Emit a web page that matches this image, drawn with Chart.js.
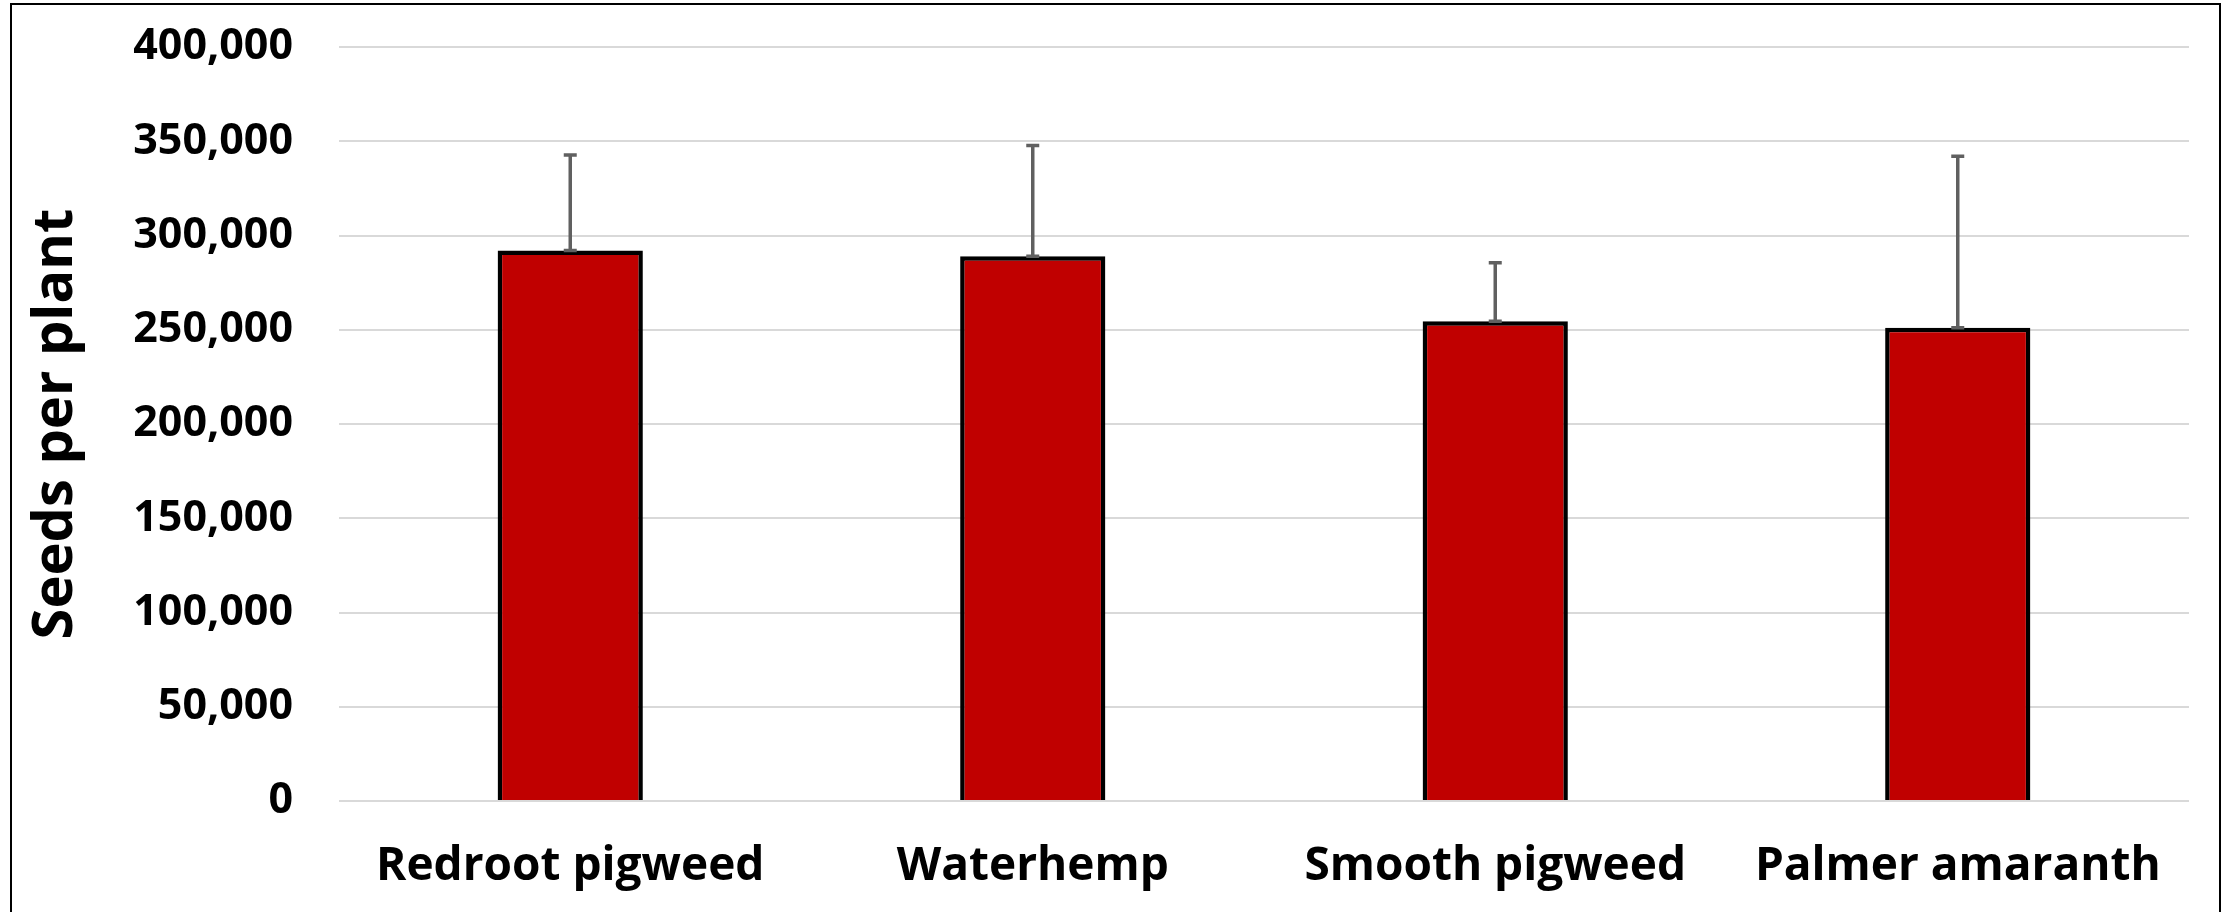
<!DOCTYPE html>
<html><head><meta charset="utf-8">
<script src="https://cdn.jsdelivr.net/npm/chart.js@4/dist/chart.umd.min.js"></script>
<style>
html,body{margin:0;padding:0;background:#fff;overflow:hidden}
#wrap{position:relative;width:2231px;height:912px}
#frame{position:absolute;left:10px;top:3px;width:2211px;height:930px;border:2px solid #000;box-sizing:border-box;pointer-events:none}
canvas{position:absolute;left:0;top:0}
</style></head><body>
<div id="wrap"><canvas id="c" width="2231" height="912"></canvas><div id="frame"></div></div>
<script>
const categories = ['Redroot pigweed', 'Waterhemp', 'Smooth pigweed', 'Palmer amaranth'];
const seedsPerPlant = [292000, 289000, 254500, 251000];
const errorPlus = [50700, 58700, 31000, 91000];
const yTickLabels = ['0', '50,000', '100,000', '150,000', '200,000', '250,000', '300,000', '350,000', '400,000'];
const yAxisTitle = 'Seeds per plant';

const errorBarPlugin = {
  id: 'errorBars',
  afterDatasetsDraw(chart) {
    const meta = chart.getDatasetMeta(0);
    const yScale = chart.scales.y;
    const ctx = chart.ctx;
    ctx.save();
    ctx.strokeStyle = '#606060';
    ctx.lineWidth = 3.5;
    meta.data.forEach((bar, i) => {
      const x = bar.x;
      const yBase = yScale.getPixelForValue(seedsPerPlant[i]);
      const yTop = yScale.getPixelForValue(seedsPerPlant[i] + errorPlus[i]);
      ctx.beginPath();
      ctx.moveTo(x, yBase); ctx.lineTo(x, yTop);
      ctx.moveTo(x - 6.5, yTop); ctx.lineTo(x + 6.5, yTop);
      ctx.moveTo(x - 6.5, yBase); ctx.lineTo(x + 6.5, yBase);
      ctx.stroke();
    });
    ctx.restore();
  }
};

new Chart(document.getElementById('c'), {
  type: 'bar',
  data: {
    labels: categories,
    datasets: [{
      data: seedsPerPlant,
      backgroundColor: '#C00000',
      borderColor: '#000000',
      borderWidth: 4.5,
      barPercentage: 0.314,
      categoryPercentage: 1
    }]
  },
  options: {
    responsive: false,
    animation: false,
    devicePixelRatio: 1,
    layout: { padding: { top: 47, right: 42, bottom: 0, left: 0 } },
    plugins: { legend: { display: false }, tooltip: { enabled: false } },
    scales: {
      x: {
        grid: { display: false },
        border: { display: false },
        ticks: {
          color: '#000',
          padding: 30,
          maxRotation: 0,
          font: { family: 'Open Sans', weight: 'bold', size: 46 }
        },
        afterFit(scale) { scale.height = 111; }
      },
      y: {
        min: 0,
        max: 400000,
        grid: { color: '#d9d9d9', lineWidth: 2, drawTicks: false },
        border: { display: false },
        ticks: {
          stepSize: 50000,
          color: '#000',
          padding: 46,
          font: { family: 'Open Sans', weight: 'bold', size: 43 },
          callback: (v, i) => yTickLabels[i]
        },
        title: {
          display: true,
          text: yAxisTitle,
          color: '#000',
          font: { family: 'Open Sans', weight: 'bold', size: 56, lineHeight: 1.2 },
          padding: { top: 22, bottom: 0 }
        },
        afterFit(scale) {
          scale.width = 339;
          scale.paddingTop = 0;
          scale.paddingBottom = 0;
        }
      }
    }
  },
  plugins: [errorBarPlugin]
});
</script>
</body></html>
